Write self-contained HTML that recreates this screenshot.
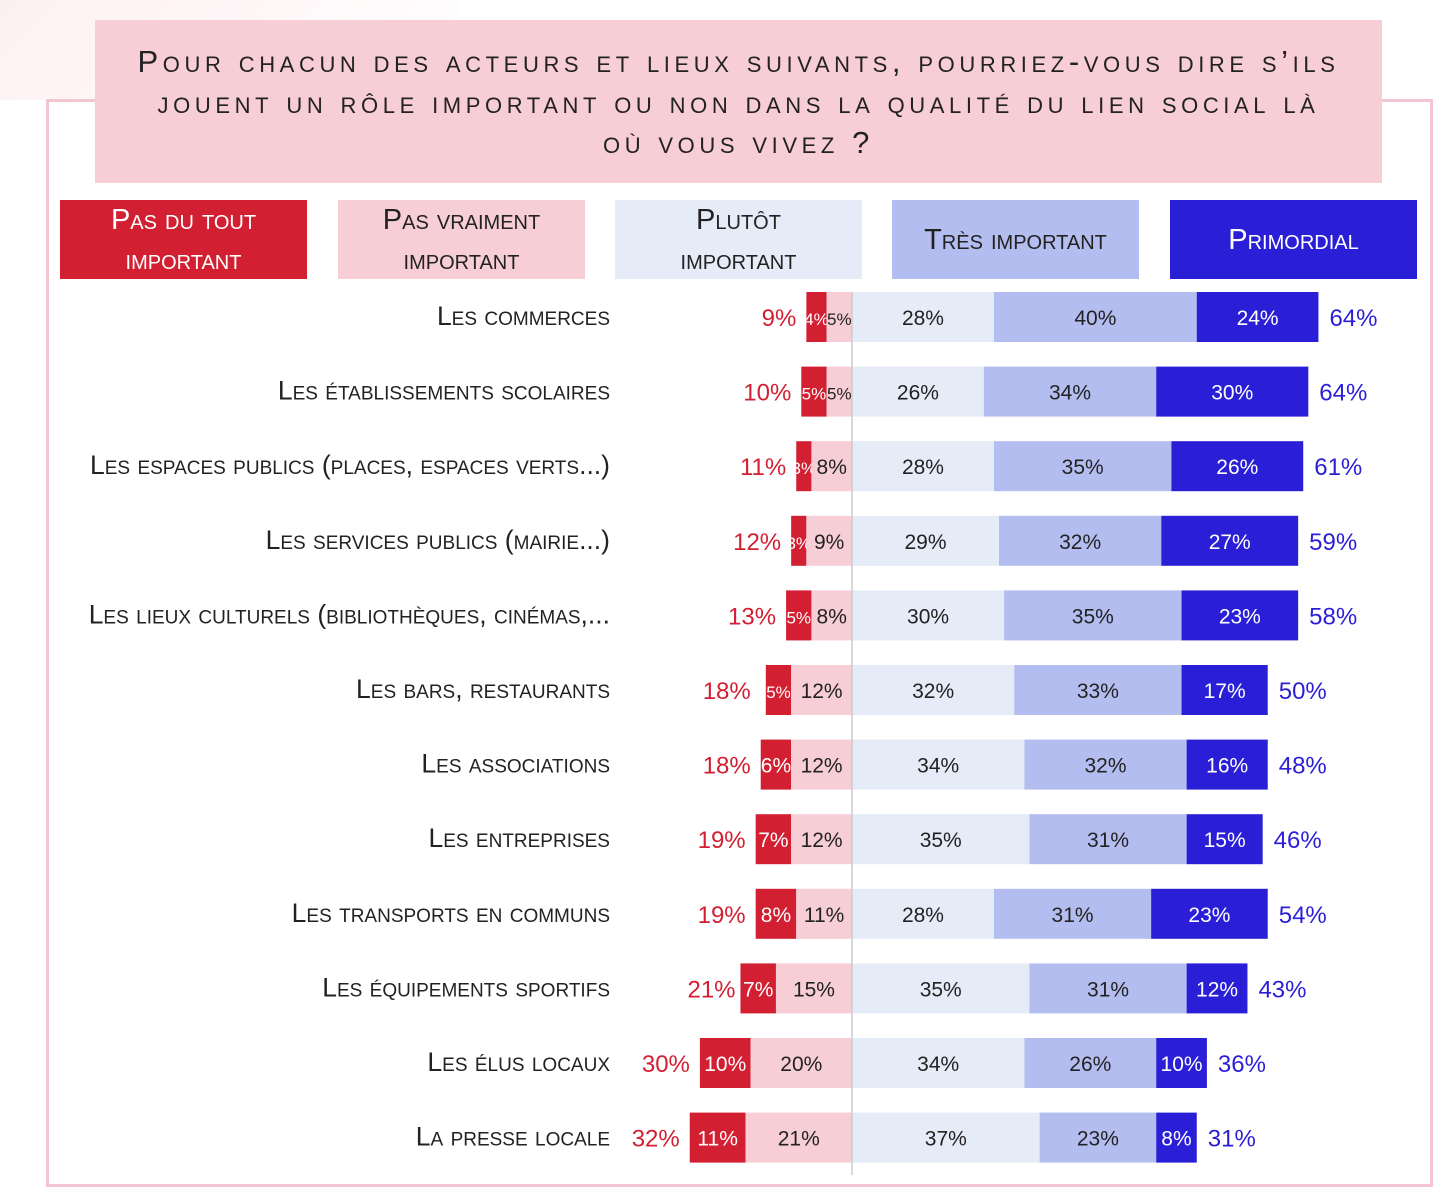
<!DOCTYPE html>
<html><head><meta charset="utf-8"><style>
body{margin:0;width:1456px;height:1199px;background:#fff;position:relative;overflow:hidden;font-family:"Liberation Sans",sans-serif}
.frame{position:absolute;left:46px;top:99px;width:1381px;height:1082px;border:3px solid #f2c6d0;background:#fff}
.title{position:absolute;left:95px;top:20px;width:1287px;height:163px;background:#f7cdd6;text-align:center;font-variant:small-caps;font-size:31px;letter-spacing:4.6px;line-height:40.5px;color:#222;padding-top:22px;box-sizing:border-box;white-space:nowrap}
.leg{position:absolute;top:200px;width:247px;height:79px;display:flex;align-items:center;justify-content:center;text-align:center;font-variant:small-caps;font-size:29px;line-height:40px;color:#222}
</style></head><body>
<div style="position:absolute;left:0;top:0;width:460px;height:100px;background:linear-gradient(135deg,#fdf0f2,#fff)"></div>
<div class="frame"></div>
<div class="title">Pour chacun des acteurs et lieux suivants, pourriez-vous dire s’ils<br>jouent un rôle important ou non dans la qualité du lien social là<br>où vous vivez ?</div>
<div class="leg" style="left:60px;background:#d21f32;color:#fff">Pas du tout<br>important</div>
<div class="leg" style="left:338px;background:#f7cdd6">Pas vraiment<br>important</div>
<div class="leg" style="left:615px;background:#e6ebf8">Plutôt<br>important</div>
<div class="leg" style="left:892px;background:#b4bdf0">Très important</div>
<div class="leg" style="left:1170px;background:#2a1fd6;color:#fff">Primordial</div>
<svg id="chart" width="1456" height="1199" style="position:absolute;left:0;top:0"></svg>
<script>
const categories=["Les commerces","Les établissements scolaires","Les espaces publics (places, espaces verts...)","Les services publics (mairie...)","Les lieux culturels (bibliothèques, cinémas,...","Les bars, restaurants","Les associations","Les entreprises","Les transports en communs","Les équipements sportifs","Les élus locaux","La presse locale"];
const pasDuTout=[4,5,3,3,5,5,6,7,8,7,10,11];
const pasVraiment=[5,5,8,9,8,12,12,12,11,15,20,21];
const plutot=[28,26,28,29,30,32,34,35,28,35,34,37];
const tres=[40,34,35,32,35,33,32,31,31,31,26,23];
const primordial=[24,30,26,27,23,17,16,15,23,12,10,8];
const totalNeg=[9,10,11,12,13,18,18,19,19,21,30,32];
const totalPos=[64,64,61,59,58,50,48,46,54,43,36,31];
const svg=document.getElementById('chart');
const NS='http://www.w3.org/2000/svg';
const X0=852,K=5.07,Y0=317,DY=74.6,H=50;
const xs=v=>X0+v*K, ys=i=>Y0+i*DY;
function mk(t,a,txt){const e=document.createElementNS(NS,t);for(const k in a)e.setAttribute(k,a[k]);if(txt!=null)e.textContent=txt;svg.appendChild(e);return e;}
const fnt='font-family:"Liberation Sans",sans-serif;';
categories.forEach((c,i)=>{
  const y=ys(i);
  let t=mk('text',{x:610,y:y+8,'text-anchor':'end','font-size':26.5,fill:'#222',style:fnt+'font-variant:small-caps'},c);
  
  
  const segs=[[-pasVraiment[i]-pasDuTout[i],pasDuTout[i],'#d21f32','#fff'],[-pasVraiment[i],pasVraiment[i],'#f7cdd6','#222'],[0,plutot[i],'#e6ebf8','#222'],[plutot[i],tres[i],'#b4bdf0','#222'],[plutot[i]+tres[i],primordial[i],'#2a1fd6','#fff']];
  segs.forEach((s,j)=>{
    const x=xs(s[0]),w=s[1]*K;
    const r=mk('rect',{x:x,y:y-H/2,width:w,height:H,fill:s[2]});
    
    
    const lt=mk('text',{x:x+w/2,y:y+8,'text-anchor':'middle','font-size':w<30?17:21,fill:s[3],style:fnt},s[1]+'%');
    
    
  });
  const nl=mk('text',{x:xs(-totalNeg[i])-10,y:y+9,'text-anchor':'end','font-size':24,fill:'#d21f32',style:fnt},totalNeg[i]+'%');
  
  
  const pl=mk('text',{x:xs(plutot[i]+tres[i]+primordial[i])+11,y:y+9,'font-size':24,fill:'#2a1fd6',style:fnt},totalPos[i]+'%');
  
  
});
const ax=mk('line',{x1:X0,x2:X0,y1:292,y2:1175,stroke:'#ccc','stroke-width':1.5});


</script>
</body></html>
